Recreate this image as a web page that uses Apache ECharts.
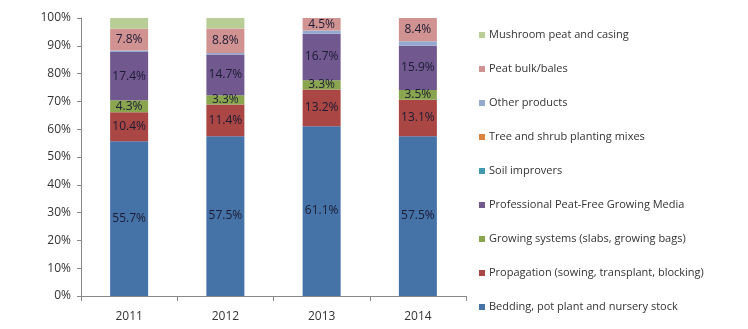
<!DOCTYPE html>
<html>
<head>
<meta charset="utf-8">
<script src="https://cdn.jsdelivr.net/npm/echarts@6/dist/echarts.min.js"></script>
<style>
  html, body { margin: 0; padding: 0; background: #fff; }
  #chart { width: 748px; height: 329px; }
</style>
</head>
<body>
<div id="chart"></div>
<script>
// Market share by application, percent of total volume
const years = ['2011', '2012', '2013', '2014'];

const bedding      = [55.7, 57.5, 61.1, 57.5];
const propagation  = [10.4, 11.4, 13.2, 13.1];
const growingSys   = [4.3, 3.3, 3.3, 3.5];
const peatFree     = [17.4, 14.7, 16.7, 15.9];
const soilImprover = [0, 0, 0, 0];
const treeShrub    = [0, 0, 0, 0];
const otherProd    = [0.5, 0.5, 1.2, 1.6];
const peatBulk     = [7.8, 8.8, 4.5, 8.4];
const mushroom     = [3.9, 3.8, 0, 0];

const yTicks = [0, 10, 20, 30, 40, 50, 60, 70, 80, 90, 100];

const seriesDefs = [
  { name: 'Bedding, pot plant and nursery stock', data: bedding, color: '#4572A7', label: true },
  { name: 'Propagation (sowing, transplant, blocking)', data: propagation, color: '#AA4643', label: true },
  { name: 'Growing systems (slabs, growing bags)', data: growingSys, color: '#89A54E', label: true },
  { name: 'Professional Peat-Free Growing Media', data: peatFree, color: '#71588F', label: true },
  { name: 'Soil improvers', data: soilImprover, color: '#4198AF', label: false },
  { name: 'Tree and shrub planting mixes', data: treeShrub, color: '#DB843D', label: false },
  { name: 'Other products', data: otherProd, color: '#93A9CF', label: false },
  { name: 'Peat bulk/bales', data: peatBulk, color: '#D19392', label: true },
  { name: 'Mushroom peat and casing', data: mushroom, color: '#B9CD96', label: false }
];

const font = '"Open Sans", "Noto Sans", sans-serif';

const chart = echarts.init(document.getElementById('chart'), null, { renderer: 'canvas' });

chart.setOption({
  animation: false,
  textStyle: { fontFamily: font },
  grid: { left: 81, right: 282, top: 18, bottom: 33 },
  legend: {
    orient: 'vertical',
    left: 474,
    top: 23,
    itemWidth: 6,
    itemHeight: 6,
    itemGap: 20,
    icon: 'rect',
    textStyle: { fontFamily: font, fontSize: 11, color: '#333', lineHeight: 14, padding: [0, 0, 0, -1] },
    data: seriesDefs.map(s => s.name).reverse()
  },
  xAxis: {
    type: 'category',
    data: years,
    axisLine: { lineStyle: { color: '#888' } },
    axisTick: { show: true, length: 5, lineStyle: { color: '#888' } },
    axisLabel: { color: '#333', fontSize: 12, margin: 15, fontFamily: font }
  },
  yAxis: {
    type: 'value',
    min: yTicks[0],
    max: yTicks[yTicks.length - 1],
    interval: 10,
    splitLine: { show: false },
    axisLine: { show: true, lineStyle: { color: '#888' } },
    axisTick: { show: true, length: 4, lineStyle: { color: '#888' } },
    axisLabel: { color: '#333', fontSize: 12, margin: 10, formatter: '{value}%', fontFamily: font }
  },
  series: seriesDefs.map(s => ({
    name: s.name,
    type: 'bar',
    stack: 'total',
    barWidth: 38,
    data: s.data,
    itemStyle: { color: s.color },
    label: {
      show: s.label,
      position: 'inside',
      formatter: p => p.value + '%',
      color: '#1c1c34',
      fontSize: 12,
      fontFamily: font
    }
  }))
});
</script>
</body>
</html>
